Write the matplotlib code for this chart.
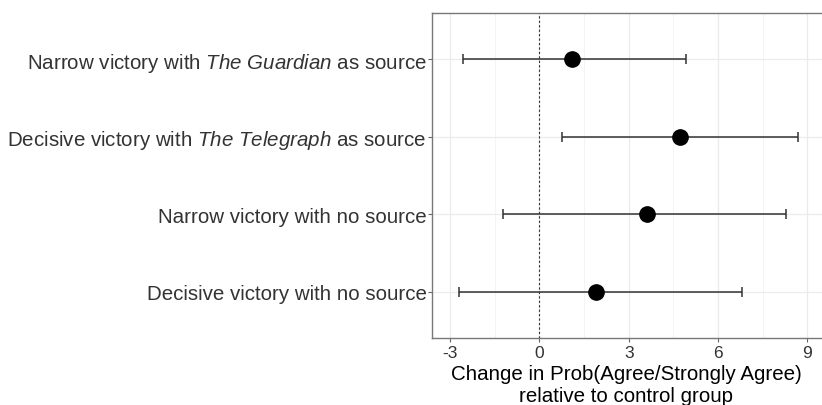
import matplotlib.pyplot as plt
import numpy as np

plt.rcParams["font.family"] = ["Liberation Sans", "DejaVu Sans"]
plt.rcParams["mathtext.fontset"] = "custom"
plt.rcParams["mathtext.rm"] = "Liberation Sans"
plt.rcParams["mathtext.it"] = "Liberation Sans:italic"
plt.rcParams["axes.unicode_minus"] = False

# data, top to bottom
labels = [
    r"Narrow victory with $\mathit{The\ Guardian}$ as source",
    r"Decisive victory with $\mathit{The\ Telegraph}$ as source",
    "Narrow victory with no source",
    "Decisive victory with no source",
]
estimate = [1.11, 4.74, 3.60, 1.91]
lower = [-2.57, 0.75, -1.22, -2.70]
upper = [4.94, 8.68, 8.30, 6.80]

est = np.array(estimate)
lo = np.array(lower)
hi = np.array(upper)
ypos = np.arange(len(labels))[::-1] + 1

fig = plt.figure(figsize=(8.22, 4.06), dpi=100)
ax = fig.add_axes([432 / 822, 1 - 339 / 406, 408 / 822, 325 / 406])

ax.errorbar(est, ypos, xerr=[est - lo, hi - est], fmt="none",
            ecolor="#333333", elinewidth=1.1, capsize=3.5, capthick=1.1, zorder=2)
ax.plot(est, ypos, "o", color="black", markersize=11, zorder=3)
ax.axvline(0, color="#333333", linestyle=(0, (2, 2)), linewidth=0.8, zorder=1)

ax.set_xlim(-3.61, 10.1)
ax.set_ylim(0.4, 4.6)
ax.set_xticks([-3, 0, 3, 6, 9])
ax.set_xticks([-1.5, 1.5, 4.5, 7.5], minor=True)
ax.set_yticks(ypos)
ax.set_yticklabels(labels)

ax.grid(True, which="major", color="#EBEBEB", linewidth=0.9)
ax.grid(True, which="minor", axis="x", color="#F2F2F2", linewidth=0.6)
ax.set_axisbelow(True)

ax.tick_params(axis="both", which="major", length=3, color="#666666",
               labelcolor="#333333")
ax.tick_params(axis="x", labelsize=12.5, pad=2)
ax.tick_params(axis="y", labelsize=14.8, pad=0.8)
ax.tick_params(which="minor", length=0)
for s in ax.spines.values():
    s.set_color("#777777")
    s.set_linewidth(1)

ax.set_xlabel("Change in Prob(Agree/Strongly Agree)\nrelative to control group",
              fontsize=14.8, color="black", linespacing=1.2)
ax.xaxis.set_label_coords((626 - 432) / 408, -0.08, transform=ax.transAxes)
ax.xaxis.label.set_va("top")

fig.savefig("out.png", dpi=100)
